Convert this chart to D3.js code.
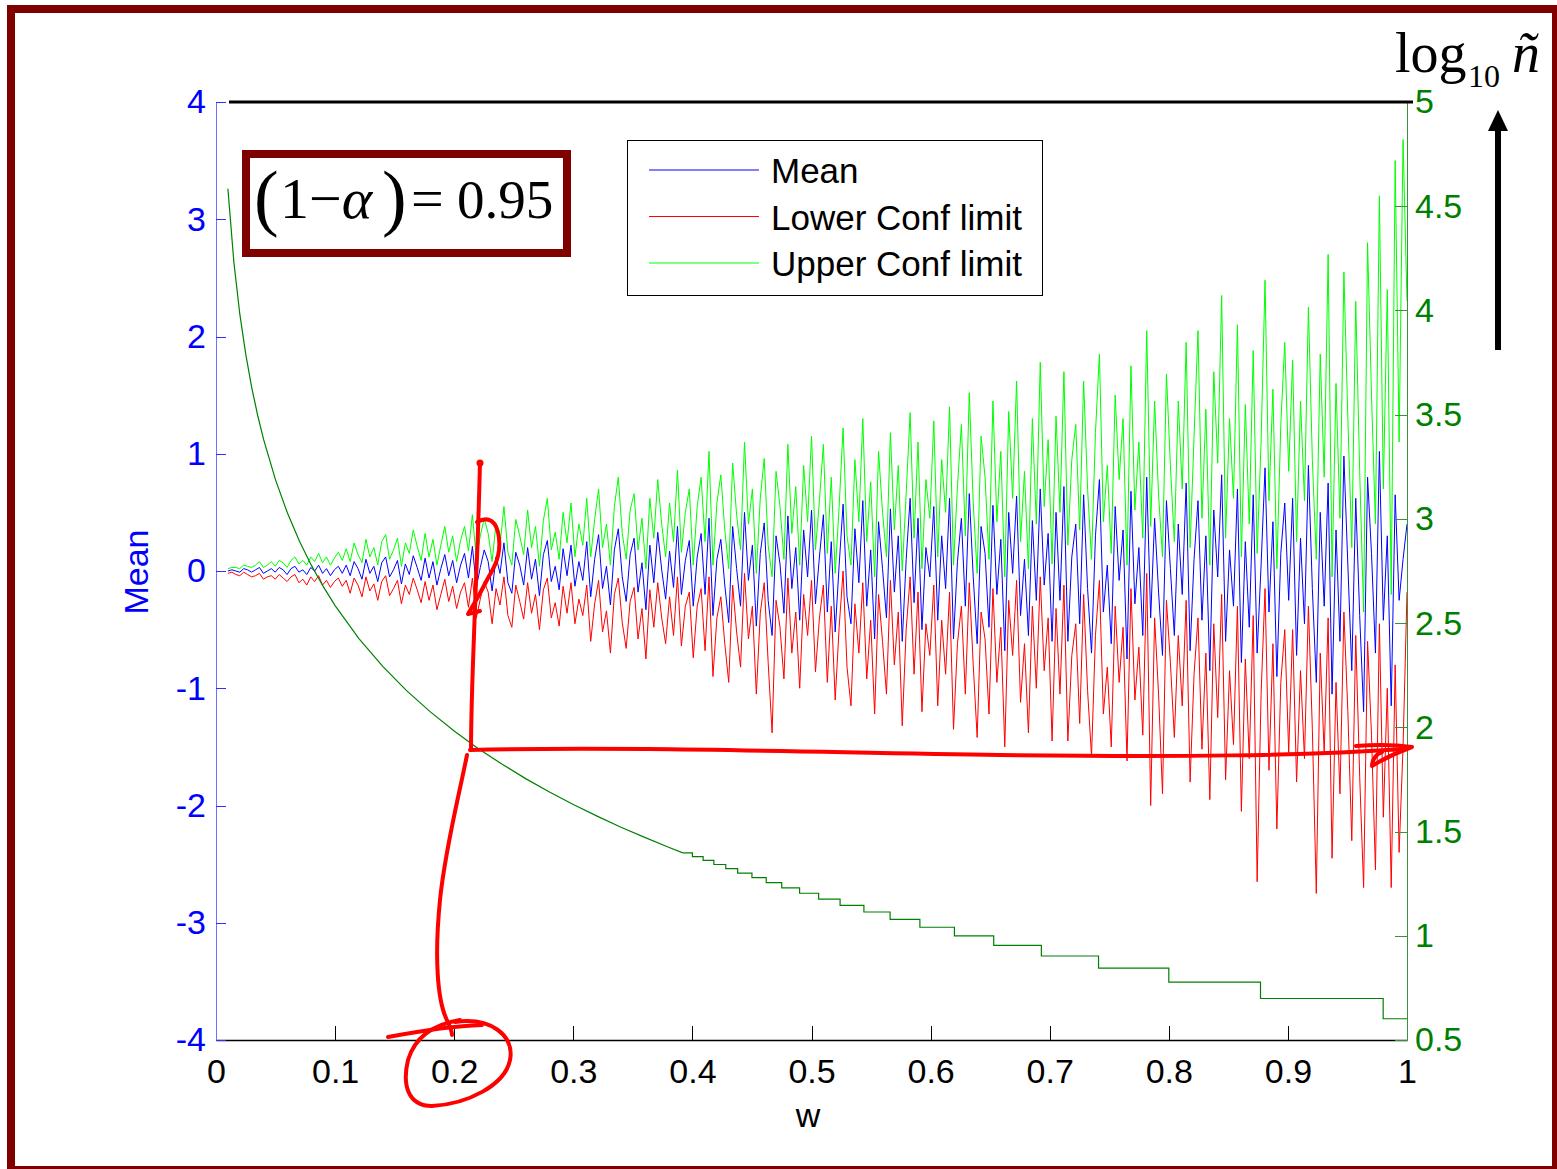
<!DOCTYPE html>
<html>
<head>
<meta charset="utf-8">
<script src="https://cdn.jsdelivr.net/npm/d3@7"></script>
<style>
    body { margin: 0; background: #fff; }
    #chart-area svg { display: block; }
    .tick line { shape-rendering: crispEdges; }
</style>
</head>
<body>
<div id="chart-area"></div>
<script>
// w grid of the simulation: 300 points from 0.01 to 1
const wStart = 0.01;
const wStep = 0.99 / 299;

// sample mean (30 points per 0.1 of w)
const meanVals = [
    0.00, 0.01, 0.00, -0.01, 0.02, 0.01, -0.01, 0.01, 0.03, -0.02, 0.00, 0.02, -0.01, 0.03, 0.01, -0.03, 0.02, 0.04, -0.01, 0.01, -0.03, 0.03, 0.00, 0.05, -0.02, 0.02, -0.04, 0.01, 0.04, -0.02,
    0.05, -0.04, 0.08, 0.02, -0.07, 0.10, -0.02, 0.04, -0.09, 0.07, 0.12, -0.05, 0.01, 0.09, -0.11, 0.06, -0.03, 0.13, 0.03, -0.08, 0.11, -0.06, 0.08, -0.12, 0.02, 0.14, -0.04, 0.09, -0.10, 0.05,
    0.15, -0.06, 0.21, -0.14, 0.03, 0.18, 0.08, -0.17, 0.12, -0.02, 0.24, -0.10, -0.19, 0.16, 0.05, -0.12, 0.20, -0.07, 0.10, -0.21, 0.14, 0.26, -0.09, 0.04, -0.16, 0.19, -0.04, 0.22, -0.13, 0.08,
    -0.08, 0.25, -0.22, 0.10, 0.31, -0.15, 0.04, -0.29, 0.18, 0.36, -0.05, -0.26, 0.14, 0.28, -0.18, 0.07, -0.33, 0.22, -0.10, 0.33, 0.01, -0.24, 0.17, -0.14, 0.38, -0.20, 0.09, 0.26, -0.30, 0.12,
    0.32, -0.20, 0.45, -0.38, 0.10, 0.27, -0.12, -0.44, 0.38, 0.02, -0.30, 0.50, -0.08, 0.22, -0.47, 0.15, 0.41, -0.25, -0.55, 0.30, 0.06, -0.36, 0.47, -0.15, 0.20, -0.42, 0.35, -0.05, 0.52, -0.28,
    0.12, 0.48, -0.35, 0.25, -0.52, 0.05, 0.57, -0.22, -0.45, 0.36, -0.10, 0.60, -0.30, 0.18, -0.58, 0.42, 0.02, -0.40, 0.53, -0.18, 0.30, -0.60, 0.10, 0.62, -0.27, 0.45, -0.50, 0.20, -0.05, 0.55,
    -0.42, 0.30, -0.15, 0.62, -0.58, 0.08, 0.45, -0.30, 0.66, -0.05, -0.62, 0.38, 0.15, -0.48, 0.56, -0.20, 0.27, -0.68, 0.50, -0.02, 0.64, -0.38, 0.10, -0.55, 0.43, -0.25, 0.70, -0.12, 0.32, -0.60,
    0.50, -0.25, 0.72, -0.60, 0.12, 0.40, -0.45, 0.65, -0.15, -0.70, 0.30, 0.78, -0.35, 0.05, -0.62, 0.55, -0.08, 0.35, -0.75, 0.68, -0.28, 0.20, -0.55, 0.80, -0.40, 0.45, -0.18, -0.72, 0.60, 0.02,
    -0.55, 0.40, -0.20, 0.75, -0.68, 0.10, 0.60, -0.42, 0.30, -0.85, 0.52, -0.05, 0.82, -0.60, 0.18, -0.30, 0.70, -0.78, 0.25, -0.48, 0.65, -0.70, 0.05, 0.88, -0.35, 0.42, -0.90, 0.15, 0.58, -0.25,
    0.62, -0.72, 0.28, -0.45, 0.90, -0.15, -0.95, 0.50, -0.30, 0.75, -1.05, 0.35, -0.60, 0.98, 0.05, -0.85, 0.62, -0.38, -1.20, 0.80, 0.15, -0.70, 1.02, -0.42, 0.30, -1.15, 0.65, -0.25, 0.10, 0.40
];

const lowerVals = [
    -0.02, -0.01, -0.03, -0.04, -0.01, -0.03, -0.05, -0.04, -0.02, -0.07, -0.05, -0.04, -0.07, -0.03, -0.06, -0.09, -0.05, -0.03, -0.10, -0.07, -0.12, -0.05, -0.09, -0.04, -0.12, -0.08, -0.14, -0.09, -0.06, -0.13,
    -0.08, -0.19, -0.06, -0.12, -0.22, -0.05, -0.17, -0.11, -0.25, -0.09, -0.04, -0.21, -0.15, -0.08, -0.28, -0.12, -0.20, -0.06, -0.16, -0.27, -0.09, -0.25, -0.12, -0.33, -0.20, -0.07, -0.26, -0.13, -0.32, -0.18,
    -0.10, -0.31, -0.06, -0.40, -0.24, -0.09, -0.18, -0.45, -0.15, -0.29, -0.05, -0.38, -0.48, -0.12, -0.26, -0.41, -0.10, -0.36, -0.20, -0.50, -0.16, -0.06, -0.40, -0.27, -0.47, -0.13, -0.36, -0.10, -0.45, -0.24,
    -0.38, -0.12, -0.60, -0.28, -0.08, -0.52, -0.34, -0.70, -0.20, -0.06, -0.44, -0.66, -0.26, -0.14, -0.58, -0.32, -0.75, -0.16, -0.48, -0.10, -0.40, -0.62, -0.22, -0.55, -0.05, -0.64, -0.30, -0.18, -0.74, -0.30,
    -0.15, -0.68, -0.05, -0.90, -0.40, -0.22, -0.62, -0.95, -0.12, -0.52, -0.82, -0.02, -0.58, -0.30, -1.05, -0.36, -0.10, -0.78, -1.38, -0.25, -0.48, -0.92, -0.06, -0.70, -0.35, -1.00, -0.20, -0.55, -0.08, -0.86,
    -0.40, -0.12, -0.95, -0.30, -1.10, -0.48, 0.00, -0.82, -1.15, -0.28, -0.70, -0.10, -0.92, -0.42, -1.22, -0.20, -0.60, -1.05, -0.08, -0.80, -0.35, -1.32, -0.50, -0.05, -0.88, -0.18, -1.20, -0.45, -0.72, -0.12,
    -1.15, -0.42, -0.88, -0.18, -1.35, -0.62, -0.30, -1.05, -0.10, -0.80, -1.42, -0.35, -0.58, -1.22, -0.15, -0.95, -0.48, -1.50, -0.25, -0.72, -0.08, -1.12, -0.62, -1.38, -0.30, -1.00, -0.05, -0.85, -0.40, -1.45,
    -0.32, -1.05, -0.12, -1.45, -0.72, -0.45, -1.30, -0.20, -1.02, -1.58, -0.55, -0.08, -1.22, -0.82, -1.50, -0.30, -0.95, -0.48, -1.62, -0.15, -1.10, -0.65, -1.40, -0.02, -2.00, -0.40, -1.05, -1.90, -0.25, -0.78,
    -1.42, -0.55, -1.15, -0.25, -1.80, -0.88, -0.40, -1.52, -0.70, -1.95, -0.45, -1.25, -0.20, -1.78, -0.85, -1.48, -0.30, -2.05, -0.75, -1.60, -0.38, -2.65, -1.05, -0.15, -1.70, -0.62, -2.20, -0.95, -0.50, -1.55,
    -0.50, -1.80, -0.85, -1.60, -0.30, -1.35, -2.75, -0.70, -1.55, -0.40, -2.45, -0.95, -1.90, -0.35, -1.20, -2.30, -0.55, -1.75, -2.70, -0.60, -1.40, -2.55, -0.45, -2.10, -1.00, -2.70, -0.80, -2.40, -1.50, -0.18
];

const upperVals = [
    0.02, 0.03, 0.03, 0.02, 0.05, 0.04, 0.03, 0.05, 0.08, 0.03, 0.05, 0.08, 0.04, 0.09, 0.07, 0.03, 0.09, 0.12, 0.06, 0.09, 0.05, 0.12, 0.08, 0.15, 0.07, 0.12, 0.05, 0.11, 0.16, 0.09,
    0.19, 0.08, 0.24, 0.14, 0.07, 0.27, 0.12, 0.20, 0.05, 0.25, 0.31, 0.10, 0.18, 0.28, 0.04, 0.24, 0.15, 0.35, 0.21, 0.09, 0.32, 0.12, 0.27, 0.05, 0.22, 0.38, 0.16, 0.30, 0.08, 0.26,
    0.38, 0.17, 0.48, 0.10, 0.30, 0.45, 0.32, 0.08, 0.41, 0.22, 0.55, 0.16, 0.05, 0.44, 0.30, 0.14, 0.52, 0.20, 0.38, 0.04, 0.43, 0.62, 0.18, 0.33, 0.10, 0.50, 0.24, 0.58, 0.12, 0.40,
    0.22, 0.62, 0.12, 0.44, 0.70, 0.20, 0.40, 0.05, 0.55, 0.80, 0.32, 0.10, 0.52, 0.66, 0.18, 0.45, 0.02, 0.62, 0.28, 0.78, 0.40, 0.12, 0.58, 0.25, 0.86, 0.16, 0.50, 0.70, 0.05, 0.55,
    0.80, 0.25, 1.02, 0.05, 0.58, 0.82, 0.35, 0.02, 0.92, 0.48, 0.18, 1.10, 0.40, 0.70, -0.02, 0.62, 0.96, 0.22, -0.05, 0.85, 0.55, 0.10, 1.08, 0.32, 0.72, 0.05, 0.90, 0.42, 1.15, 0.18,
    0.60, 1.08, 0.15, 0.80, -0.02, 0.55, 1.22, 0.30, 0.05, 0.95, 0.42, 1.30, 0.25, 0.76, -0.05, 1.02, 0.50, 0.12, 1.18, 0.35, 0.90, 0.00, 0.66, 1.35, 0.28, 1.10, 0.02, 0.78, 0.45, 1.28,
    0.12, 0.95, 0.50, 1.40, 0.05, 0.72, 1.25, 0.30, 1.52, 0.58, -0.02, 1.15, 0.80, 0.10, 1.45, 0.42, 1.02, -0.05, 1.36, 0.62, 1.62, 0.25, 0.85, 0.02, 1.30, 0.40, 1.78, 0.55, 1.12, 0.06,
    1.32, 0.50, 1.70, 0.22, 0.95, 1.25, 0.35, 1.62, 0.70, 0.10, 1.18, 1.85, 0.42, 0.90, 0.15, 1.50, 0.78, 1.30, 0.05, 1.75, 0.52, 1.10, 0.28, 2.05, 0.38, 1.45, 0.65, 0.12, 1.68, 0.90,
    0.25, 1.45, 0.70, 1.95, 0.20, 1.15, 2.05, 0.45, 1.38, 0.05, 1.70, 0.92, 2.35, 0.28, 1.30, 0.62, 2.10, 0.12, 1.42, 0.40, 1.88, 0.15, 1.10, 2.48, 0.60, 1.55, 0.02, 1.25, 1.95, 0.85,
    1.80, 0.25, 1.45, 0.60, 2.25, 0.95, 0.10, 1.85, 0.80, 2.70, -0.05, 1.60, 0.45, 2.55, 1.30, 0.20, 2.30, 0.85, -0.35, 2.80, 1.50, 0.40, 3.20, 0.70, 2.40, -0.20, 3.50, 1.10, 3.68, 2.30
];

// required sample size, log10(n~), right axis: smooth part then the integer steps
const nCurveW = [0.010, 0.015, 0.020, 0.025, 0.030, 0.035, 0.040, 0.050, 0.060, 0.070, 0.080, 0.090, 0.100,
    0.120, 0.140, 0.160, 0.180, 0.200, 0.220, 0.240, 0.260, 0.280, 0.300, 0.320, 0.340, 0.360, 0.380, 0.392];
const nCurveLog = [4.584, 4.232, 3.982, 3.789, 3.630, 3.496, 3.380, 3.187, 3.028, 2.894, 2.778, 2.676, 2.584,
    2.426, 2.292, 2.176, 2.074, 1.982, 1.899, 1.824, 1.754, 1.690, 1.630, 1.574, 1.521, 1.472, 1.425, 1.398];
const stepW = [0.392, 0.400, 0.409, 0.418, 0.428, 0.438, 0.450, 0.462, 0.475, 0.490, 0.506, 0.524,
    0.544, 0.566, 0.591, 0.620, 0.653, 0.693, 0.741, 0.800, 0.877, 0.980, 1.000];
const stepLog = [1.398, 1.380, 1.362, 1.342, 1.322, 1.301, 1.279, 1.255, 1.230, 1.204, 1.176, 1.146,
    1.114, 1.079, 1.041, 1.000, 0.954, 0.903, 0.845, 0.778, 0.699, 0.602, 0.602];

const xTicks = [0, 0.1, 0.2, 0.3, 0.4, 0.5, 0.6, 0.7, 0.8, 0.9, 1];
const leftTicks = [-4, -3, -2, -1, 0, 1, 2, 3, 4];
const rightTicks = [0.5, 1, 1.5, 2, 2.5, 3, 3.5, 4, 4.5, 5];

const seriesNames = ["Mean", "Lower Conf limit", "Upper Conf limit"];
const seriesColors = ["#0000ff", "#ff0000", "#00ff00"];

class ConfChart {
    constructor(_parentElement) {
        this.parentElement = _parentElement;
        this.initVis();
    }

    initVis() {
        let vis = this;
        vis.width = 1557;
        vis.height = 1169;

        vis.svg = d3.select("#" + vis.parentElement).append("svg")
            .attr("width", vis.width)
            .attr("height", vis.height);

        vis.x = d3.scaleLinear().domain([0, 1]).range([216, 1407]);
        vis.yL = d3.scaleLinear().domain([-4, 4]).range([1040, 102]);
        vis.yR = d3.scaleLinear().domain([0.5, 5]).range([1040, 102]);

        vis.data = meanVals.map((m, i) => ({
            w: wStart + i * wStep,
            mean: m,
            lower: lowerVals[i],
            upper: upperVals[i]
        }));

        vis.updateVis();
    }

    updateVis() {
        let vis = this;
        const font = "'Liberation Sans', Arial, Helvetica, sans-serif";
        const serif = "'Liberation Serif', 'Times New Roman', serif";

        // data lines (drawn in legend order, later on top)
        ["mean", "lower", "upper"].forEach((key, k) => {
            let line = d3.line()
                .x(d => vis.x(d.w))
                .y(d => vis.yL(d[key]));
            vis.svg.append("path")
                .datum(vis.data)
                .attr("fill", "none")
                .attr("stroke", seriesColors[k])
                .attr("stroke-width", 1)
                .attr("d", line);
        });

        // log10 n curve on the right axis
        let nPts = nCurveW.map((w, i) => [w, nCurveLog[i]]);
        vis.svg.append("path")
            .datum(nPts)
            .attr("fill", "none")
            .attr("stroke", "#008000")
            .attr("stroke-width", 1.2)
            .attr("d", d3.line().x(d => vis.x(d[0])).y(d => vis.yR(d[1])));

        let sPts = stepW.map((w, i) => [w, stepLog[i]]);
        vis.svg.append("path")
            .datum(sPts)
            .attr("fill", "none")
            .attr("stroke", "#008000")
            .attr("stroke-width", 1.2)
            .attr("d", d3.line().curve(d3.curveStepAfter).x(d => vis.x(d[0])).y(d => vis.yR(d[1])));

        // axes
        let xAxis = d3.axisBottom(vis.x).tickValues(xTicks).tickFormat(d => String(d))
            .tickSizeInner(-14).tickSizeOuter(0).tickPadding(19);
        let gx = vis.svg.append("g").attr("transform", "translate(0,1040)").call(xAxis);
        gx.select(".domain").attr("stroke", "#000").attr("stroke-width", 1.5);
        gx.selectAll(".tick line").attr("stroke", "#000");
        gx.selectAll("text").attr("fill", "#000").style("font-family", font).style("font-size", "34px");

        let yAxisL = d3.axisLeft(vis.yL).tickValues(leftTicks).tickFormat(d => String(d))
            .tickSizeInner(-10).tickSizeOuter(0).tickPadding(10);
        let gl = vis.svg.append("g").attr("transform", "translate(216,0)").call(yAxisL);
        gl.select(".domain").attr("stroke", "#7070ff");
        gl.selectAll(".tick line").attr("stroke", "#3030ff");
        gl.selectAll("text").attr("fill", "#0000ff").style("font-family", font).style("font-size", "34px");

        let yAxisR = d3.axisRight(vis.yR).tickValues(rightTicks).tickFormat(d => String(d))
            .tickSizeInner(-12).tickSizeOuter(0).tickPadding(8);
        let gr = vis.svg.append("g").attr("transform", "translate(1407,0)").call(yAxisR);
        gr.select(".domain").attr("stroke", "#3c8f3c");
        gr.selectAll(".tick line").attr("stroke", "#3c8f3c");
        gr.selectAll("text").attr("fill", "#008000").style("font-family", font).style("font-size", "34px");

        // thick black line along the top of the box
        vis.svg.append("line")
            .attr("x1", 229).attr("x2", 1413)
            .attr("y1", vis.yL(4)).attr("y2", vis.yL(4))
            .attr("stroke", "#000").attr("stroke-width", 3);

        // axis titles
        vis.svg.append("text")
            .attr("transform", "translate(148,572) rotate(-90)")
            .attr("text-anchor", "middle")
            .attr("fill", "#0000ff")
            .style("font-family", font).style("font-size", "34px")
            .text("Mean");
        vis.svg.append("text")
            .attr("x", 808).attr("y", 1127)
            .attr("text-anchor", "middle")
            .attr("fill", "#000")
            .style("font-family", font).style("font-size", "34px")
            .text("w");

        // legend
        let lg = vis.svg.append("g");
        lg.append("rect")
            .attr("x", 627.5).attr("y", 140.5).attr("width", 415).attr("height", 155)
            .attr("fill", "#fff").attr("stroke", "#000").attr("stroke-width", 1);
        seriesNames.forEach((name, i) => {
            let ly = 170 + i * 46.5;
            lg.append("line")
                .attr("x1", 649).attr("x2", 759).attr("y1", ly).attr("y2", ly)
                .attr("stroke", seriesColors[i]).attr("stroke-width", 1);
            lg.append("text")
                .attr("x", 771).attr("y", ly + 13)
                .attr("fill", "#000")
                .style("font-family", font).style("font-size", "35px")
                .text(name);
        });

        // (1 - alpha) = 0.95 box
        let ab = vis.svg.append("g");
        ab.append("rect")
            .attr("x", 246).attr("y", 154).attr("width", 321).attr("height", 99)
            .attr("fill", "#fff").attr("stroke", "#800000").attr("stroke-width", 8);
        ab.append("text").attr("x", 254).attr("y", 222)
            .style("font-family", serif).style("font-size", "74px").text("(");
        let mid = ab.append("text").attr("x", 280).attr("y", 218)
            .style("font-family", serif).style("font-size", "58px");
        mid.append("tspan").text("1\u2212");
        mid.append("tspan").style("font-style", "italic").text("\u03b1");
        ab.append("text").attr("x", 382).attr("y", 222)
            .style("font-family", serif).style("font-size", "74px").text(")");
        ab.append("text").attr("x", 411).attr("y", 218)
            .style("font-family", serif).style("font-size", "58px").text("=");
        ab.append("text").attr("x", 457).attr("y", 218)
            .style("font-family", serif).style("font-size", "55px").text("0.95");

        // log10 n~ label and arrow
        vis.svg.append("text").attr("x", 1395).attr("y", 72)
            .style("font-family", serif).style("font-size", "56px").text("log");
        vis.svg.append("text").attr("x", 1468).attr("y", 87)
            .style("font-family", serif).style("font-size", "32px").text("10");
        vis.svg.append("text").attr("x", 1512).attr("y", 72)
            .style("font-family", serif).style("font-size", "56px").style("font-style", "italic").text("\u00f1");
        vis.svg.append("line")
            .attr("x1", 1498).attr("x2", 1498).attr("y1", 350).attr("y2", 126)
            .attr("stroke", "#000").attr("stroke-width", 6);
        vis.svg.append("path")
            .attr("d", "M1498,110 L1508,131 L1488,131 Z")
            .attr("fill", "#000");

        // hand-drawn red marks
        let hand = vis.svg.append("g")
            .attr("fill", "none").attr("stroke", "#ff0000").attr("stroke-width", 4)
            .attr("stroke-linecap", "round").attr("stroke-linejoin", "round");
        hand.append("path").attr("d", "M480,463 C479,500 478,540 476,580 C474,640 471,700 471,750");
        hand.append("path").attr("d", "M477,522 C488,516 497,520 499,538 C501,556 494,568 488,578 C482,590 474,604 468,614 L480,611");
        hand.append("path").attr("d", "M470,750 C620,746 800,752 1000,755 C1180,757 1300,756 1405,749");
        hand.append("path").attr("d", "M1356,746 C1380,744 1398,745 1412,747 C1398,752 1385,758 1372,766 C1372,760 1376,754 1382,752");
        hand.append("path").attr("d", "M467,755 C458,800 445,850 440,900 C434,960 438,1000 446,1018 C449,1025 452,1030 452,1035");
        hand.append("path").attr("d", "M388,1037 C420,1031 452,1026 482,1025");
        hand.append("path").attr("d", "M455,1022 C490,1017 515,1035 510,1060 C505,1085 468,1104 432,1106 C408,1106 402,1085 408,1060 C414,1040 430,1025 460,1020");
        vis.svg.append("circle").attr("cx", 480).attr("cy", 463).attr("r", 3.5).attr("fill", "#ff0000");

        // dark red frame
        vis.svg.append("rect")
            .attr("x", 11).attr("y", 9).attr("width", 1545).attr("height", 1161)
            .attr("fill", "none").attr("stroke", "#800000").attr("stroke-width", 8);
    }
}

new ConfChart("chart-area");
</script>
</body>
</html>
